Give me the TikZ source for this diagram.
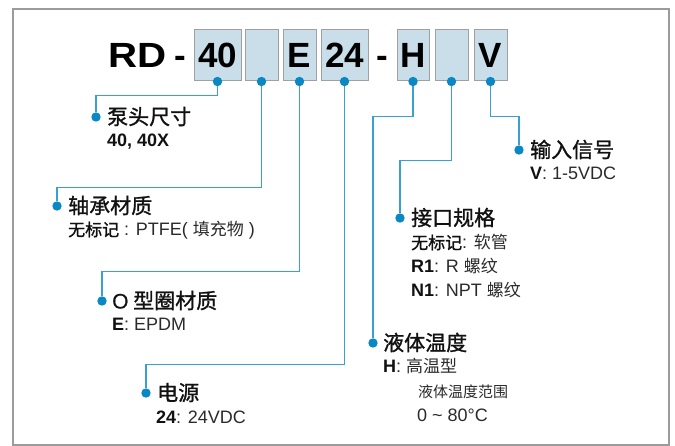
\documentclass[tikz,border=0pt]{standalone}
\usepackage{fontspec}
\setmainfont{Liberation Sans}
\newfontfamily\cjk{Noto Sans CJK SC}
\newfontfamily\cjkm[FakeBold=1.2]{Noto Sans CJK SC}
\newfontfamily\latm[FakeBold=0.6]{Liberation Sans}
\definecolor{linec}{HTML}{3A9FD3}
\definecolor{dotc}{HTML}{0A88C6}
\definecolor{boxf}{HTML}{C9DEE9}
\definecolor{boxd}{HTML}{A0A0A0}
\definecolor{framec}{HTML}{9B9B9B}
\definecolor{txt}{HTML}{111111}
\definecolor{txtg}{HTML}{2A2A2A}
\newcommand\bk[1]{\textcolor{txt}{\bfseries #1}}
\newcommand\zh[1]{{\cjk\fontsize{17}{17}\selectfont #1}}
\newcommand\zhb[1]{\textcolor{txt}{\cjkm\fontsize{17}{17}\selectfont #1}}
\begin{document}
\begin{tikzpicture}[x=1pt,y=-1pt,
  codebox/.style={draw=boxd, fill=boxf, line width=1pt, minimum height=51pt, inner sep=0pt,
    text=black, font=\fontsize{35}{35}\selectfont\bfseries},
  bigtxt/.style={inner sep=0pt, anchor=base, text=black, font=\fontsize{35}{35}\selectfont\bfseries},
  dot/.style={circle, fill=dotc, inner sep=0pt, minimum size=9.4pt},
  conn/.style={draw=linec, line width=1.3pt},
  ttl/.style={inner sep=0pt, anchor=base west, text=txt, font=\cjkm\fontsize{21}{21}\selectfont},
  sub/.style={inner sep=0pt, anchor=base west, text=txtg, font=\fontsize{18}{18}\selectfont},
  small/.style={inner sep=0pt, anchor=base west, text=txtg, font=\cjk\fontsize{15}{15}\selectfont}]
\useasboundingbox (0,0) rectangle (675,446);
\draw[framec, line width=2pt] (13,9) rectangle (669,445);

% title
\node[bigtxt, anchor=base west] (rd) at (108.5,68) {\scalebox{1.15}[1]{RD}};
\node[bigtxt] (m1) at (180,68) {-};
\node[bigtxt] (m2) at (382,68) {-};
\node[codebox, minimum width=47pt] (b1) at (217.5,55.5) {40};
\node[codebox, minimum width=33pt] (b2) at (261.5,55.5) {};
\node[codebox, minimum width=33pt] (b3) at (299.5,55.5) {E};
\node[codebox, minimum width=47pt] (b4) at (344.5,55.5) {24};
\node[codebox, minimum width=32pt] (b5) at (413,55.5) {H};
\node[codebox, minimum width=33pt] (b6) at (451.5,55.5) {};
\node[codebox, minimum width=33pt] (b7) at (490.5,55.5) {V};

% target dots
\node[dot] (d1) at (96,117) {};
\node[dot] (d2) at (57,206) {};
\node[dot] (d3) at (102,301) {};
\node[dot] (d4) at (146,393) {};
\node[dot] (d5) at (373,343) {};
\node[dot] (d6) at (400,218) {};
\node[dot] (d7) at (519,150) {};

% connectors
\draw[conn] (b1.south) -- ++(0,14) -| (d1);
\draw[conn] (b2.south) -- ++(0,106) -| (d2);
\draw[conn] (b3.south) -- ++(0,190) -| (d3);
\draw[conn] (b4.south) -- ++(0,283) -| (d4);
\draw[conn] (b5.south) -- ++(0,35) -| (d5);
\draw[conn] (b6.south) -- ++(0,79) -| (d6);
\draw[conn] (b7.south) -- ++(0,35) -| (d7);

% box dots
\foreach \b in {b1,b2,b3,b4,b5,b6,b7} \node[dot] at (\b.south) {};

% labels
\node[ttl] (t1) at (107,124.5) {泵头尺寸};
\node[sub] (s1) at (107,147) {\bk{40, 40X}};

\node[ttl] (t2) at (68,213.5) {轴承材质};
\node[sub] (s2) at (68,236) {\zhb{无标记} : PTFE( \zh{填充物} )};

\node[ttl] (t3) at (112,308.5) {{\latm\fontsize{21}{21}\selectfont O} 型圈材质};
\node[sub] (s3) at (112,331) {\bk{E}: EPDM};

\node[ttl] (t4) at (157,400.5) {电源};
\node[sub] (s4) at (156,424) {\bk{24}: 24VDC};

\node[ttl] (t5) at (383,350.5) {液体温度};
\node[sub] (s5) at (383,373) {\bk{H}: \zh{高温型}};
\node[small] (s5b) at (418,397) {液体温度范围};
\node[sub] (s5c) at (417,421) {0 \textasciitilde{} 80°C};

\node[ttl] (t6) at (411,225.5) {接口规格};
\node[sub] (s6a) at (411,249) {\zhb{无标记}: \zh{软管}};
\node[sub] (s6b) at (411,273) {\bk{R1}: R \zh{螺纹}};
\node[sub] (s6c) at (411,297) {\bk{N1}: NPT \zh{螺纹}};

\node[ttl] (t7) at (530,157.5) {输入信号};
\node[sub] (s7) at (530,180) {\bk{V}: 1-5VDC};
\end{tikzpicture}
\end{document}
